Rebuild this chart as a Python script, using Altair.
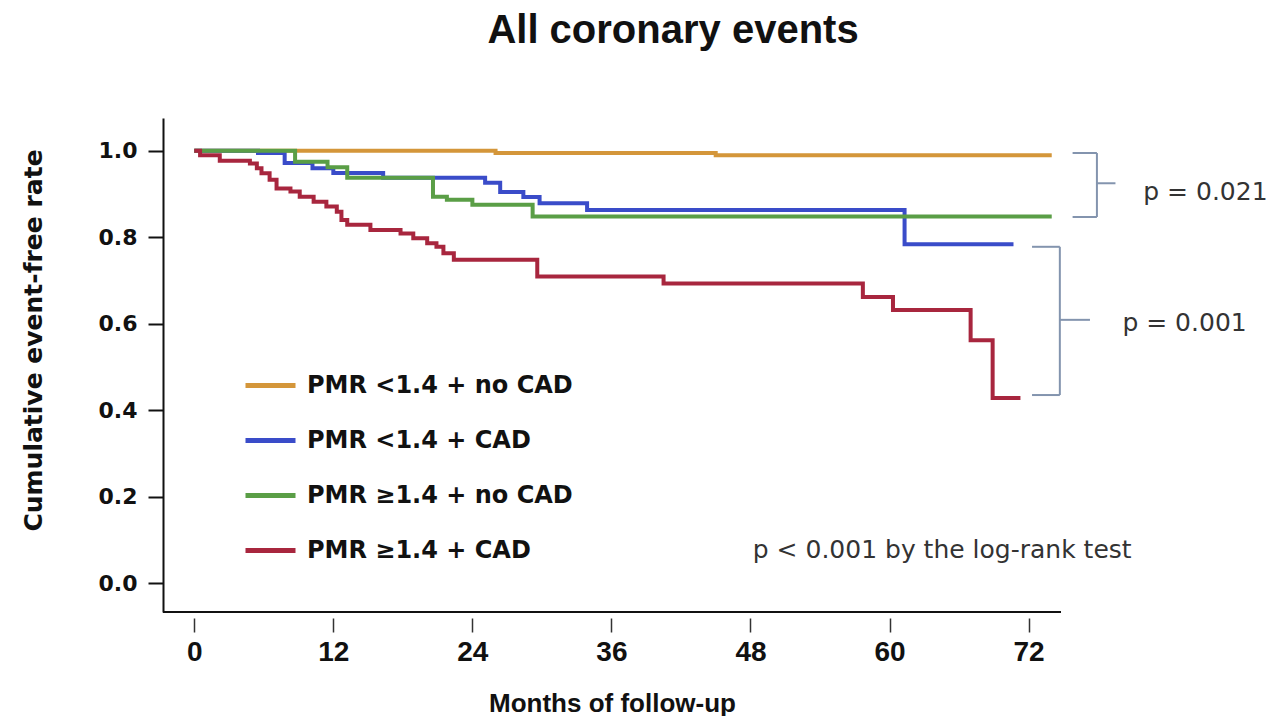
import altair as alt
import pandas as pd

# ---------------- data ----------------
groups = ["PMR <1.4 + no CAD", "PMR <1.4 + CAD", "PMR ≥1.4 + no CAD", "PMR ≥1.4 + CAD"]
colors = ["#D4963A", "#3A4CC9", "#5A9E46", "#A8263E"]

t_orange = [0, 26, 45, 74]
s_orange = [1.0, 0.995, 0.99, 0.99]

t_blue = [0, 5.5, 7.8, 10.2, 12.0, 16.3, 25.1, 26.4, 28.4, 29.8, 33.9, 61.3, 70.7]
s_blue = [1.0, 0.995, 0.972, 0.960, 0.949, 0.938, 0.926, 0.905, 0.893, 0.879, 0.863, 0.784, 0.784]

t_green = [0, 8.7, 11.5, 13.2, 20.6, 21.8, 24.0, 29.2, 74.0]
s_green = [1.0, 0.975, 0.962, 0.938, 0.894, 0.887, 0.875, 0.848, 0.848]

t_red = [0, 0.5, 2.2, 4.8, 5.4, 5.8, 6.5, 7.1, 8.3, 9.1, 10.3, 11.4, 12.3, 12.7, 13.2,
         15.2, 17.8, 18.9, 20.1, 20.9, 21.5, 22.4, 29.6, 40.5, 57.7, 60.3, 67.0, 68.9, 71.3]
s_red = [1.0, 0.990, 0.977, 0.971, 0.960, 0.948, 0.933, 0.913, 0.906, 0.894, 0.882, 0.871,
         0.859, 0.840, 0.829, 0.817, 0.809, 0.798, 0.786, 0.778, 0.763, 0.748, 0.709, 0.693,
         0.662, 0.632, 0.562, 0.428, 0.428]

x_ticks = [0, 12, 24, 36, 48, 60, 72]
y_ticks = [0.0, 0.2, 0.4, 0.6, 0.8, 1.0]

# bracket annotations (months, rate)
br_x1 = [75.8, 77.9, 75.8, 77.9, 72.3, 74.7, 72.3, 74.7]
br_x2 = [77.9, 77.9, 77.9, 79.5, 74.7, 74.7, 74.7, 77.3]
br_y1 = [0.995, 0.995, 0.847, 0.925, 0.778, 0.778, 0.435, 0.609]
br_y2 = [0.995, 0.847, 0.847, 0.925, 0.778, 0.435, 0.435, 0.609]

p_text = ["p = 0.021", "p = 0.001", "p < 0.001 by the log-rank test"]
p_x = [81.9, 80.1, 48.2]
p_y = [0.905, 0.602, 0.076]

# ---------------- frames ----------------
rows = []
for g, ts, ss in zip(groups, [t_orange, t_blue, t_green, t_red],
                     [s_orange, s_blue, s_green, s_red]):
    for t, s in zip(ts, ss):
        rows.append({"group": g, "month": t, "rate": s})
km = pd.DataFrame(rows)
br = pd.DataFrame({"x": br_x1, "x2": br_x2, "y": br_y1, "y2": br_y2})
pt = pd.DataFrame({"x": p_x, "y": p_y, "text": p_text})

W, H = 898, 494
xs = alt.Scale(domain=[-2.7, 74.8], nice=False, zero=False)
ys = alt.Scale(domain=[-0.067, 1.076], nice=False, zero=False)

BOLD_WIDE = "DejaVu Sans"

lines = alt.Chart(km).mark_line(interpolate="step-after", strokeWidth=4).encode(
    x=alt.X("month:Q", scale=xs,
            axis=alt.Axis(values=x_ticks, offset=6, domain=False, grid=False,
                          tickSize=14, tickWidth=1.5, tickColor="#333",
                          labelPadding=6, labelFont="Liberation Sans Narrow, Liberation Sans, sans-serif",
                          labelFontSize=28, labelFontWeight="bold", labelColor="#111",
                          title="Months of follow-up", titleFont="Liberation Sans",
                          titleFontSize=26, titleFontWeight="bold", titleColor="#111",
                          titleY=85, titleBaseline="middle")),
    y=alt.Y("rate:Q", scale=ys,
            axis=alt.Axis(values=y_ticks, format=".1f", grid=False,
                          domainColor="#111", domainWidth=2,
                          tickSize=15, tickWidth=2, tickColor="#111",
                          labelPadding=11, labelFont=BOLD_WIDE, labelFontSize=22,
                          labelFontWeight="bold", labelColor="#111",
                          title="Cumulative event-free rate", titleFont=BOLD_WIDE,
                          titleFontSize=25, titleFontWeight="bold", titleColor="#111",
                          titleX=-130, titleY=222, titleAlign="center",
                          titleBaseline="middle")),
    color=alt.Color("group:N", scale=alt.Scale(domain=groups, range=colors),
                    legend=alt.Legend(title=None, orient="none", legendX=80, legendY=240,
                                      symbolType="stroke", symbolSize=2500,
                                      symbolStrokeWidth=5, labelOffset=9,
                                      labelFont=BOLD_WIDE, labelFontSize=24,
                                      labelFontWeight="bold", labelColor="#111",
                                      rowPadding=15, padding=0, labelLimit=400)),
    order=alt.Order("month:Q"),
)

xaxis_line = alt.Chart(km).mark_rule(color="#111", strokeWidth=2).encode(
    x=alt.value(0), x2=alt.value(W), y=alt.value(H)
)

brackets = alt.Chart(br).mark_rule(color="#8394AE", strokeWidth=2).encode(
    x=alt.X("x:Q", scale=xs), x2="x2:Q",
    y=alt.Y("y:Q", scale=ys), y2="y2:Q",
)

ptext = alt.Chart(pt).mark_text(align="left", baseline="middle", font="DejaVu Sans",
                                fontSize=25, color="#333").encode(
    x=alt.X("x:Q", scale=xs), y=alt.Y("y:Q", scale=ys), text="text:N"
)

chart = alt.layer(lines, xaxis_line, brackets, ptext).properties(
    width=W, height=H,
    title=alt.TitleParams("All coronary events", font="Liberation Sans", fontSize=40,
                          fontWeight="bold", color="#111", anchor="middle",
                          frame="group", dx=61, offset=35, baseline="alphabetic"),
    padding={"left": 155, "top": 110, "right": 212, "bottom": 104},
    autosize=alt.AutoSizeParams(type="none"),
    background="white",
).configure_view(stroke=None)

chart.save("out.html", embed_options={"renderer": "svg", "actions": False})
